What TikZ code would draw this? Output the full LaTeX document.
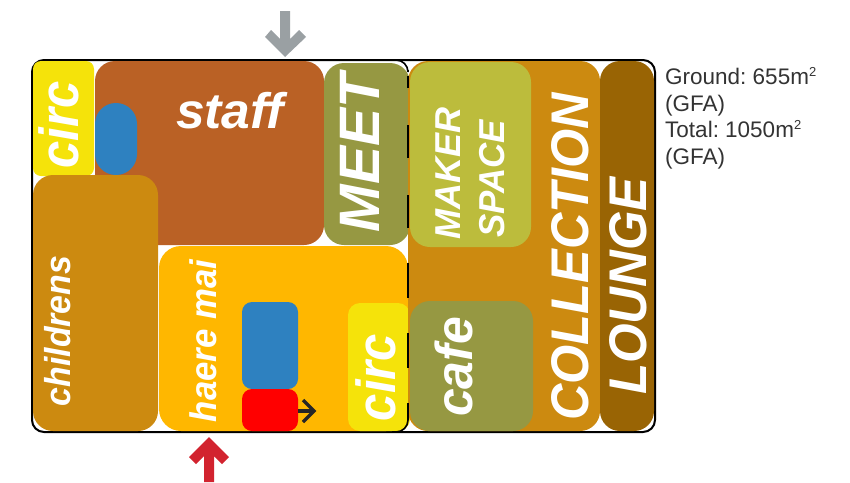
\documentclass[tikz,border=0pt]{standalone}
\usepackage{fontspec}
\setmainfont{Liberation Sans}
\frenchspacing
\definecolor{cyel}{HTML}{F5E30A}
\definecolor{cstaff}{HTML}{BA6125}
\definecolor{cblue}{HTML}{2E81C0}
\definecolor{cochre}{HTML}{CC8A10}
\definecolor{camber}{HTML}{FFB700}
\definecolor{colive}{HTML}{969842}
\definecolor{cmaker}{HTML}{BCBC3C}
\definecolor{cbrown}{HTML}{996404}
\definecolor{cgrey}{HTML}{9AA0A3}
\definecolor{cred}{HTML}{D2232F}
\definecolor{cink}{HTML}{333333}
\definecolor{cdark}{HTML}{262626}
\newcommand{\squeezed}[2]{\scalebox{#1}[1]{#2}}
\tikzset{
  x=1pt,y=-1pt,
  room/.style={rounded corners=#1},
  room/.default=20pt,
  wall/.style={draw=black,line width=2pt,rounded corners=12pt},
  vlabel/.style={text=white,inner sep=0pt,anchor=base,rotate=90,font=\bfseries\itshape\fontsize{#1}{#1}\selectfont},
  hlabel/.style={text=white,inner sep=0pt,anchor=base,font=\bfseries\itshape\fontsize{#1}{#1}\selectfont},
  note/.style={anchor=base west,inner sep=0pt,text=cink,font=\fontsize{22.5pt}{22.5pt}\selectfont},
}
\begin{document}
\begin{tikzpicture}
\useasboundingbox (0,0) rectangle (850,482);
% walls
\draw[wall] (32,60) rectangle (655,432);
% rooms
\fill[cstaff,room] (95,61) rectangle (324,245);
\fill[cyel,room=8pt] (33,61) rectangle (94,176);
\fill[cblue,room=20.9pt] (95,103) rectangle (137,175);
\fill[cochre,room] (33,175) rectangle (158,431);
\fill[camber,room=22pt] (159,246) rectangle (408,431);
\fill[cblue,room=10pt] (242,302) rectangle (298,389);
\fill[red,room=10pt] (242,389) rectangle (298,431);
\fill[cyel,room=12pt] (348,303) rectangle (410,431);
\fill[colive,room] (324,63) rectangle (410,245);
\fill[cochre,room] (408,61) rectangle (600,431);
\fill[cmaker,room] (410,62) rectangle (531,247);
\fill[colive,room] (410,301) rectangle (533,431);
\fill[cbrown,room] (600,61) rectangle (654,431);
% party wall: rounded ends and dashes
\draw[black,line width=1.6pt,rounded corners=12pt] (392,60) -- (408,60) -- (408,70);
\draw[black,line width=1.6pt] (408,76) -- (408,88);
\foreach \a/\b in {125/158,195/228,263/298,333/368}
  \draw[black,line width=1.6pt] (408,\a) -- (408,\b);
\draw[black,line width=1.6pt,rounded corners=12pt] (408,403) -- (408,432) -- (392,432);
% small arrow
\coordinate (flowA) at (298,411);
\coordinate (flowB) at (314,411);
\draw[cdark,line width=3.5pt] (flowA) -- (flowB);
\draw[cdark,line width=3.5pt] (303,400) -- (flowB) -- (303,422);
% entrances
\fill[cgrey] (285,57) -- (306,37) -- (299,30) -- (290,39) -- (290,11) -- (280,11) -- (280,39) -- (271,30) -- (265,37) -- cycle;
\fill[cred] (209,437) -- (229,457) -- (222,464) -- (214,456) -- (214,482) -- (204,482) -- (204,456) -- (196,464) -- (189,457) -- cycle;
% labels
\node[vlabel=55pt] (circa) at (78,125) {\squeezed{0.89}{circ}};
\node[hlabel=50pt] (staff) at (230,128) {\squeezed{1.03}{staff}};
\node[vlabel=57pt] (meet) at (379,153) {MEET};
\node[vlabel=36pt] (maker) at (460,173) {MAKER};
\node[vlabel=36pt] (space) at (504,179) {\squeezed{0.97}{SPACE}};
\node[vlabel=53pt] (coll) at (588,257) {\squeezed{0.95}{COLLECTION}};
\node[vlabel=53pt] (lounge) at (646,286) {\squeezed{0.96}{LOUNGE}};
\node[vlabel=52pt] (cafe) at (472,367) {\squeezed{0.96}{cafe}};
\node[vlabel=55pt] (circb) at (395,377.5) {\squeezed{0.89}{circ}};
\node[vlabel=36pt] (child) at (70,331) {\squeezed{0.94}{childrens}};
\node[vlabel=37pt] (haere) at (216,341) {\squeezed{0.94}{haere mai}};
% area note
\node[note] (l1) at (665,84) {Ground: 655m\raisebox{8pt}{\fontsize{13pt}{13pt}\selectfont 2}};
\node[note] (l2) at (665,111) {(GFA)};
\node[note] (l3) at (665,137) {Total: 1050m\raisebox{8pt}{\fontsize{13pt}{13pt}\selectfont 2}};
\node[note] (l4) at (665,164) {(GFA)};
\end{tikzpicture}
\end{document}
